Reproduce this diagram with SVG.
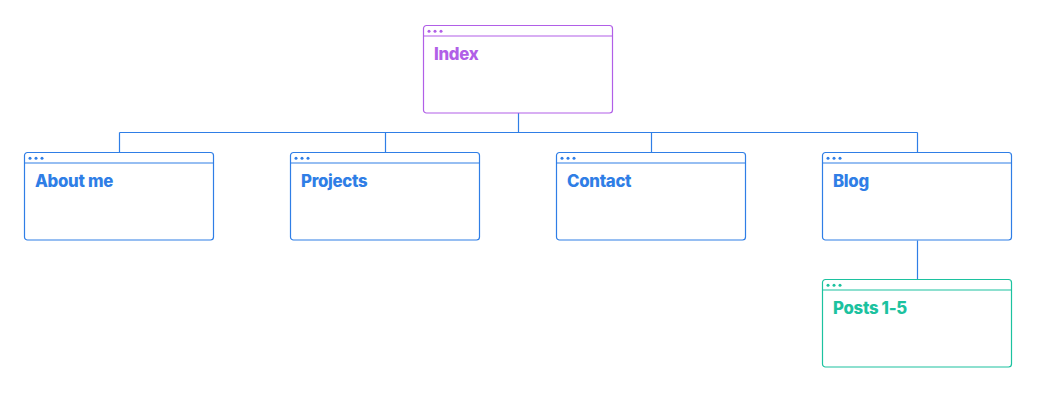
<svg xmlns="http://www.w3.org/2000/svg" width="1042" height="404" viewBox="0 0 1042 404">
<style>
.box{fill:#fff;stroke-width:1.2}
.hdr{stroke-width:1.2}
.lbl{font-family:Inter,"Liberation Sans",Arial,sans-serif;font-weight:800;font-size:16.8px;letter-spacing:-0.3px}
.blue .box,.blue .hdr{stroke:#2f7ee6}
.blue text,.blue use{fill:#2f7ee6}
.purple .box,.purple .hdr{stroke:#b15fe7}
.purple text,.purple use{fill:#b15fe7}
.teal .box,.teal .hdr{stroke:#1cc29f}
.teal text,.teal use{fill:#1cc29f}
.conn{fill:none;stroke:#2f7ee6;stroke-width:1.2}
</style>
<defs>
<g id="dots"><circle cx="5.5" cy="5.8" r="1.5"/><circle cx="11.5" cy="5.8" r="1.5"/><circle cx="17.5" cy="5.8" r="1.5"/></g>
</defs>
<g id="connectors">
<path class="conn" d="M518.5 113V132.5M119.5 132.5H917.5M119.5 132.5V152.5M385.5 132.5V152.5M651.5 132.5V152.5M917.5 132.5V152.5M917.5 240.5V279.5"/>
</g>
<g id="index" class="purple" transform="translate(423.5 25.5)">
<rect class="box" x="0" y="0" width="189" height="87.5" rx="3"/>
<line class="hdr" x1="0" y1="10.5" x2="189" y2="10.5"/>
<use href="#dots"/>
<text class="lbl" x="10.5" y="34.5">Index</text>
</g>
<g id="about" class="blue" transform="translate(24.5 152.5)">
<rect class="box" x="0" y="0" width="189" height="87.5" rx="3"/>
<line class="hdr" x1="0" y1="10.5" x2="189" y2="10.5"/>
<use href="#dots"/>
<text class="lbl" x="10.5" y="34.5">About me</text>
</g>
<g id="projects" class="blue" transform="translate(290.5 152.5)">
<rect class="box" x="0" y="0" width="189" height="87.5" rx="3"/>
<line class="hdr" x1="0" y1="10.5" x2="189" y2="10.5"/>
<use href="#dots"/>
<text class="lbl" x="10.5" y="34.5">Projects</text>
</g>
<g id="contact" class="blue" transform="translate(556.5 152.5)">
<rect class="box" x="0" y="0" width="189" height="87.5" rx="3"/>
<line class="hdr" x1="0" y1="10.5" x2="189" y2="10.5"/>
<use href="#dots"/>
<text class="lbl" x="10.5" y="34.5">Contact</text>
</g>
<g id="blog" class="blue" transform="translate(822.5 152.5)">
<rect class="box" x="0" y="0" width="189" height="87.5" rx="3"/>
<line class="hdr" x1="0" y1="10.5" x2="189" y2="10.5"/>
<use href="#dots"/>
<text class="lbl" x="10.5" y="34.5">Blog</text>
</g>
<g id="posts" class="teal" transform="translate(822.5 279.5)">
<rect class="box" x="0" y="0" width="189" height="87.5" rx="3"/>
<line class="hdr" x1="0" y1="10.5" x2="189" y2="10.5"/>
<use href="#dots"/>
<text class="lbl" x="10.5" y="34.5">Posts 1-5</text>
</g>
</svg>
